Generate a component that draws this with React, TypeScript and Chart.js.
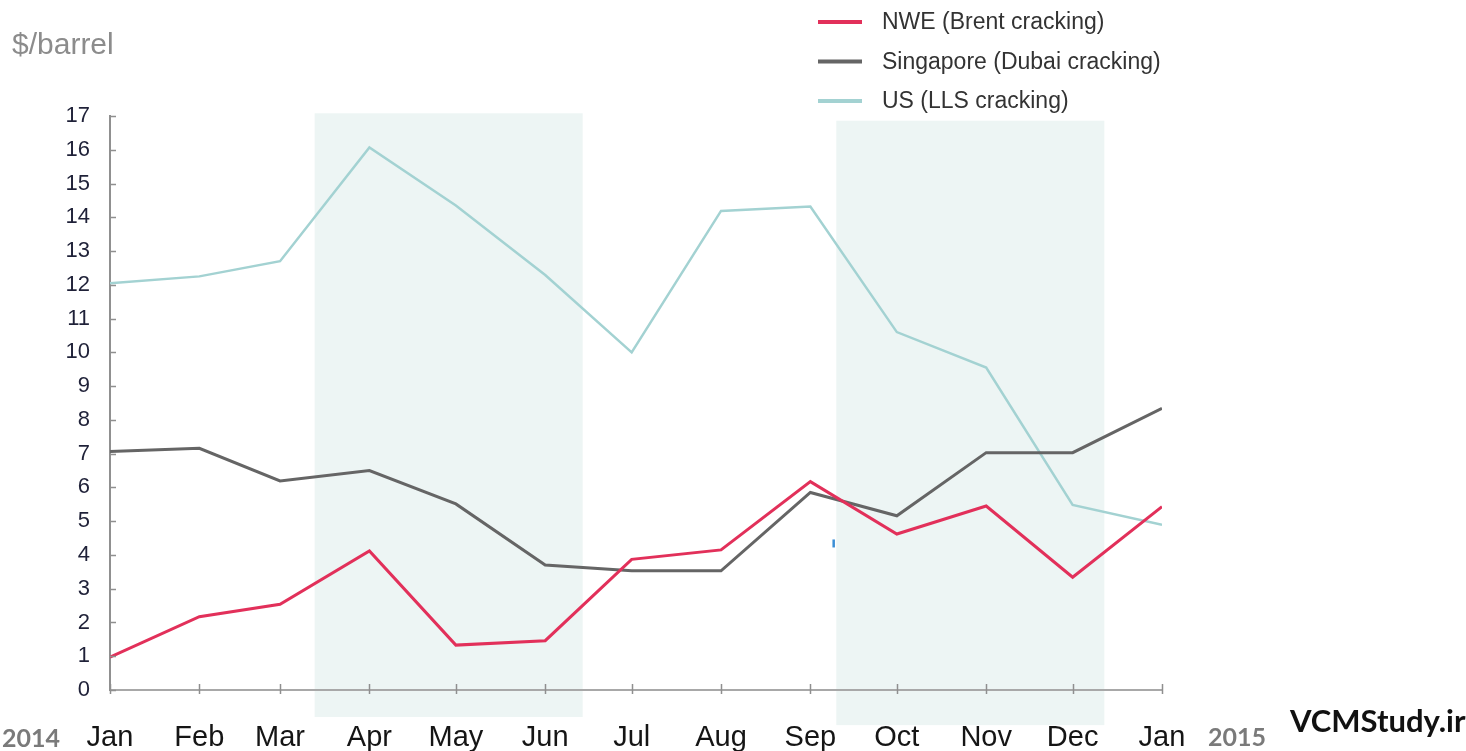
import React, { useEffect, useRef } from "react";
import { Chart, registerables } from "chart.js";

Chart.register(...registerables);

// ---- data ----
const monthLabels = ["Jan", "Feb", "Mar", "Apr", "May", "Jun", "Jul", "Aug", "Sep", "Oct", "Nov", "Dec", "Jan"];
const monthDates = [
  "2014-01-01", "2014-02-01", "2014-03-01", "2014-04-01", "2014-05-01", "2014-06-01",
  "2014-07-01", "2014-08-01", "2014-09-01", "2014-10-01", "2014-11-01", "2014-12-01", "2015-01-01",
];
const nweValues = [0.97, 2.17, 2.54, 4.12, 1.33, 1.46, 3.87, 4.15, 6.17, 4.62, 5.45, 3.34, 5.43];
const singaporeValues = [7.06, 7.16, 6.19, 6.5, 5.51, 3.7, 3.53, 3.53, 5.85, 5.16, 7.03, 7.03, 8.34];
const usValues = [12.05, 12.25, 12.7, 16.07, 14.35, 12.29, 10.0, 14.19, 14.32, 10.6, 9.55, 5.48, 4.89];
const seriesNames = ["NWE (Brent cracking)", "Singapore (Dubai cracking)", "US (LLS cracking)"];
const yTickValues = [0, 1, 2, 3, 4, 5, 6, 7, 8, 9, 10, 11, 12, 13, 14, 15, 16, 17];
const shadedFrom = ["2014-03-13", "2014-09-10"];
const shadedTo = ["2014-06-14", "2014-12-12"];
const shadedTop = [17.08, 16.86];
const shadedBottom = [-0.8, -1.04];
const strayMarkDate = "2014-09-09";
const strayMarkValue = 4.34;
const yearStart = "2014";
const yearEnd = "2015";
const unitLabel = "$/barrel";
const watermark = "VCMStudy.ir";

const COLORS = {
  nwe: "#e2305a",
  sing: "#656565",
  us: "#a3d2d2",
  shade: "#edf5f4",
};

const SANS = "'Liberation Sans', Arial, sans-serif";

function dayOf(s: string): number {
  const [y, m, d] = s.split("-").map(Number);
  return (Date.UTC(y, m - 1, d) - Date.UTC(2014, 0, 1)) / 86400000;
}

const monthDays = monthDates.map(dayOf);

const shadePlugin = {
  id: "shade",
  beforeDraw(chart: any) {
    const { ctx, scales } = chart;
    const xs = scales.x;
    const ys = scales.y;
    ctx.save();
    ctx.fillStyle = COLORS.shade;
    for (let i = 0; i < shadedFrom.length; i++) {
      const x1 = xs.getPixelForValue(dayOf(shadedFrom[i]));
      const x2 = xs.getPixelForValue(dayOf(shadedTo[i]));
      const y1 = ys.getPixelForValue(shadedTop[i]);
      const y2 = ys.getPixelForValue(shadedBottom[i]);
      ctx.fillRect(x1, y1, x2 - x1, y2 - y1);
    }
    ctx.restore();
  },
};

const decorPlugin = {
  id: "decor",
  afterDraw(chart: any) {
    const { ctx, scales, chartArea } = chart;
    const xs = scales.x;
    const ys = scales.y;
    ctx.save();
    // inward tick marks
    ctx.lineWidth = 1.5;
    ctx.strokeStyle = "#8f8f8f";
    ctx.beginPath();
    for (const v of yTickValues) {
      const y = Math.round(ys.getPixelForValue(v)) + 0.5;
      ctx.moveTo(chartArea.left, y);
      ctx.lineTo(chartArea.left + 6, y);
    }
    for (const d of monthDays) {
      const x = Math.round(xs.getPixelForValue(d)) + 0.5;
      ctx.moveTo(x, chartArea.bottom - 6);
      ctx.lineTo(x, chartArea.bottom + 4);
    }
    ctx.stroke();

    // small stray blue mark
    const mx = xs.getPixelForValue(dayOf(strayMarkDate));
    const my = ys.getPixelForValue(strayMarkValue);
    ctx.fillStyle = "#3b8fd6";
    ctx.fillRect(mx - 1, my - 4, 2.5, 8);

    // legend
    const ds = chart.data.datasets;
    [0, 1, 2].forEach((idx, i) => {
      const y = 22 + i * 39.5;
      ctx.strokeStyle = ds[idx].borderColor;
      ctx.lineWidth = 4;
      ctx.beginPath();
      ctx.moveTo(818, y);
      ctx.lineTo(862, y);
      ctx.stroke();
      ctx.fillStyle = "#333333";
      ctx.font = "23px " + SANS;
      ctx.textBaseline = "middle";
      ctx.textAlign = "left";
      ctx.fillText(ds[idx].label, 882, y + 1);
    });

    // unit label
    ctx.fillStyle = "#8c8c8c";
    ctx.font = "30px " + SANS;
    ctx.textBaseline = "alphabetic";
    ctx.fillText(unitLabel, 12, 54);

    // year labels
    ctx.fillStyle = "#7a7a7a";
    ctx.font = "700 25px Lato, 'Open Sans', sans-serif";
    ctx.fillText(yearStart, 2, 747);
    ctx.fillText(yearEnd, 1208, 746);

    // watermark
    ctx.fillStyle = "#111111";
    ctx.font = "700 31px Lato, 'Open Sans', sans-serif";
    ctx.fillText(watermark, 1290, 732);
    ctx.restore();
  },
};

export default function App() {
  const canvasRef = useRef<HTMLCanvasElement | null>(null);

  useEffect(() => {
    if (!canvasRef.current) return;
    const mk = (vals: number[]) => vals.map((v, i) => ({ x: monthDays[i], y: v }));
    const chart = new Chart(canvasRef.current, {
      type: "line",
      data: {
        datasets: [
          {
            label: seriesNames[0],
            data: mk(nweValues),
            borderColor: COLORS.nwe,
            backgroundColor: COLORS.nwe,
            borderWidth: 3,
            pointRadius: 0,
            tension: 0,
            order: 0,
          },
          {
            label: seriesNames[1],
            data: mk(singaporeValues),
            borderColor: COLORS.sing,
            backgroundColor: COLORS.sing,
            borderWidth: 3,
            pointRadius: 0,
            tension: 0,
            order: 1,
          },
          {
            label: seriesNames[2],
            data: mk(usValues),
            borderColor: COLORS.us,
            backgroundColor: COLORS.us,
            borderWidth: 2.5,
            pointRadius: 0,
            tension: 0,
            order: 2,
          },
        ],
      },
      options: {
        responsive: false,
        animation: false,
        layout: { padding: { top: 116, right: 304, bottom: 0, left: 0 } },
        plugins: {
          legend: { display: false },
          tooltip: { enabled: false },
        },
        scales: {
          x: {
            type: "linear",
            min: monthDays[0],
            max: monthDays[monthDays.length - 1],
            afterBuildTicks: (scale: any) => {
              scale.ticks = monthDays.map((v) => ({ value: v }));
            },
            afterFit: (scale: any) => {
              scale.height = 61;
            },
            ticks: {
              autoSkip: false,
              maxRotation: 0,
              padding: 31,
              color: "#151515",
              font: { family: SANS, size: 29 },
              callback: (v: any) => {
                const i = monthDays.indexOf(Number(v));
                return i >= 0 ? monthLabels[i] : "";
              },
            },
            grid: { drawOnChartArea: false, drawTicks: false },
            border: { display: true, color: "#a8a8a8", width: 2 },
          },
          y: {
            min: 0,
            max: 17,
            afterBuildTicks: (scale: any) => {
              scale.ticks = yTickValues.map((v) => ({ value: v }));
            },
            afterFit: (scale: any) => {
              scale.width = 110;
            },
            ticks: {
              padding: 20,
              color: "#1f2138",
              font: { family: SANS, size: 22 },
            },
            grid: { drawOnChartArea: false, drawTicks: false },
            border: { display: true, color: "#909090", width: 2 },
          },
        },
      },
      plugins: [shadePlugin, decorPlugin],
    });
    return () => chart.destroy();
  }, []);

  return (
    <div style={{ position: "absolute", left: 0, top: 0, width: 1466, height: 751, background: "#fff" }}>
      <canvas ref={canvasRef} width={1466} height={751} />
    </div>
  );
}
